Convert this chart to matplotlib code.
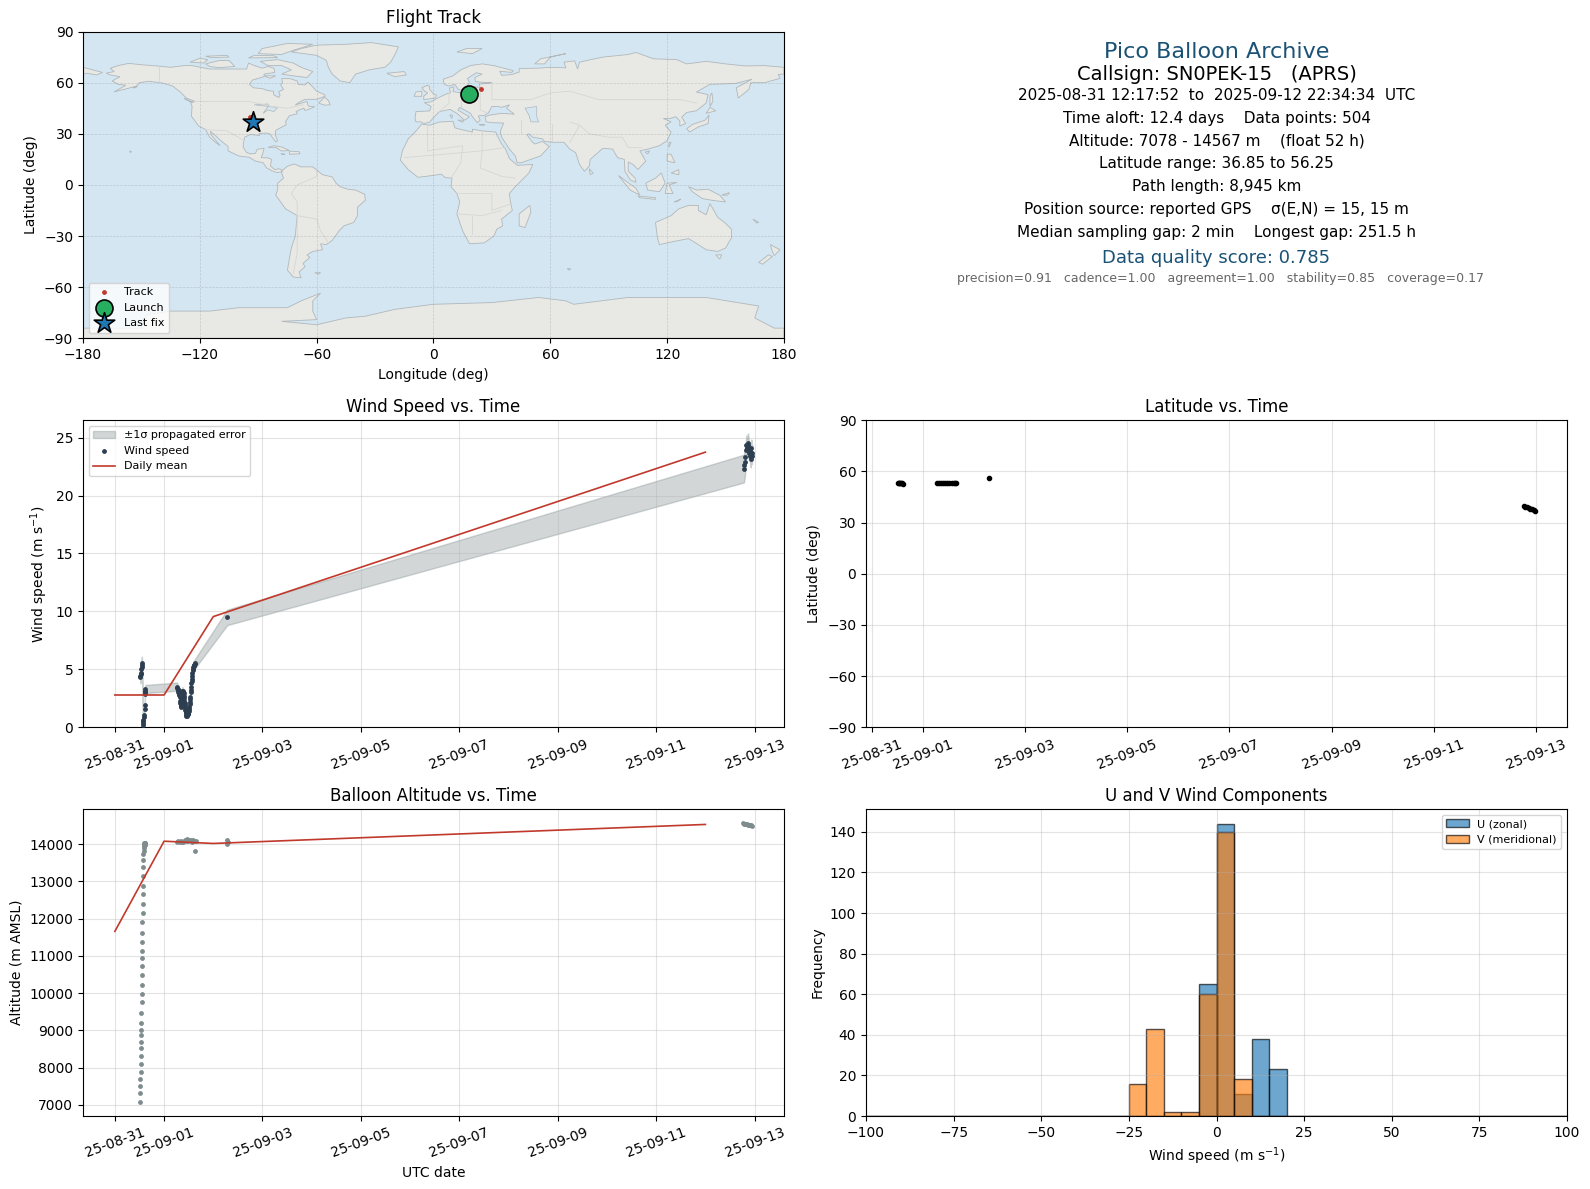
import pandas as pd
import matplotlib
matplotlib.use("Agg")
import matplotlib.pyplot as plt
import matplotlib.dates as mdates

##########################
# 1) flight data
##########################
start_day = pd.Timestamp("2025-08-31")

# wind speed, time in hours after 08-31 00:00
wind_hours = [12.4, 12.5, 12.6, 12.7, 12.9, 13.0, 13.1, 13.2, 13.8, 13.85, 13.9, 13.95, 14.0, 14.1,
              14.5, 14.6, 14.7, 14.75, 14.8, 14.85,
              30.4, 30.5, 30.6, 30.8, 30.9, 31.1, 31.2, 31.4, 31.6, 31.8, 31.9, 32.1, 32.2, 32.3, 32.4,
              32.6, 32.7, 32.8, 32.9, 33.1, 33.2, 33.4, 33.5, 33.7, 33.8, 33.9, 34.0, 34.2, 34.3, 34.4,
              34.5, 34.7, 34.8, 34.9, 35.0, 35.2, 35.3, 35.5, 35.6, 35.8, 36.0, 36.2, 36.3, 36.5, 36.6,
              36.7, 36.8, 37.0, 37.1, 37.2, 37.3, 37.5, 37.6, 37.7, 37.8, 38.0, 38.1, 38.3, 38.4, 38.6,
              38.8, 39.0, 39.2, 54.8,
              306.8, 307.0, 307.3, 307.5, 307.8, 308.0, 308.3, 308.6, 308.8, 309.1, 309.3, 309.6,
              309.9, 310.1, 310.4, 310.6, 310.8]
wind_speed = [4.4, 4.3, 4.6, 4.7, 5.0, 5.2, 5.4, 5.5, 0.2, 0.35, 0.5, 0.63, 0.92, 1.06,
              1.6, 1.9, 2.9, 3.05, 3.15, 3.3,
              3.5, 3.4, 3.3, 3.2, 3.07, 2.95, 2.85, 2.75, 2.64, 2.3, 2.07, 2.0, 1.95, 1.85, 1.78,
              2.2, 2.5, 2.9, 3.16, 3.1, 3.05, 3.0, 2.93, 2.7, 2.5, 2.3, 2.07, 1.9, 1.7, 1.5,
              1.35, 1.2, 1.06, 1.0, 1.0, 1.05, 1.1, 1.12, 1.15, 1.3, 1.4, 1.6, 1.78, 2.0, 2.2,
              2.4, 2.64, 3.0, 3.2, 3.5, 3.79, 4.0, 4.2, 4.4, 4.66, 4.9, 5.0, 5.2, 5.29, 5.35,
              5.4, 5.45, 5.52, 9.48,
              22.33, 22.6, 22.9, 23.3, 23.9, 24.4, 24.1, 24.4, 24.57, 24.1, 23.7, 23.85,
              23.4, 23.13, 24.14, 23.4, 23.7]
wind_err = [0.5, 0.5, 0.5, 0.5, 0.55, 0.55, 0.6, 0.6, 0.15, 0.15, 0.15, 0.15, 0.2, 0.2,
            0.25, 0.25, 0.3, 0.3, 0.35, 0.35,
            0.35, 0.35, 0.3, 0.3, 0.3, 0.3, 0.3, 0.3, 0.25, 0.25, 0.2, 0.2, 0.2, 0.2, 0.2,
            0.2, 0.25, 0.3, 0.3, 0.3, 0.3, 0.3, 0.25, 0.25, 0.25, 0.2, 0.2, 0.2, 0.15, 0.15,
            0.15, 0.15, 0.15, 0.15, 0.15, 0.15, 0.15, 0.15, 0.15, 0.15, 0.15, 0.2, 0.2, 0.2, 0.25,
            0.25, 0.25, 0.3, 0.3, 0.35, 0.35, 0.35, 0.35, 0.4, 0.4, 0.4, 0.4, 0.4, 0.4, 0.4,
            0.4, 0.4, 0.4, 0.67,
            1.2, 1.2, 1.2, 1.0, 0.9, 0.8, 0.8, 0.8, 0.8, 0.8, 0.7, 0.7,
            0.7, 0.7, 0.7, 0.7, 0.7]

# altitude
alt_hours = [12.3, 12.3, 12.4, 12.5, 12.7, 12.7, 12.7, 12.7, 12.7, 12.7, 12.7, 12.8, 12.8, 13.2,
             13.2, 13.2, 13.2, 13.2, 13.2, 13.2, 13.2, 13.3, 13.3, 13.7, 13.7, 13.7, 13.7, 13.7,
             13.7, 13.7, 13.8, 14.2, 14.2, 14.2, 14.3, 14.4, 14.5, 14.6, 14.7, 14.8,
             30.4, 31.0, 31.6, 32.2, 32.8, 33.4, 34.0, 34.6, 35.2, 35.8, 36.4, 37.0, 37.6, 38.2,
             38.8, 39.0, 39.4, 54.6, 54.8, 55.0,
             306.2, 306.8, 307.4, 307.8, 308.3, 308.8, 309.3, 309.8, 310.3, 310.8]
alt_meters = [7078, 7330, 7510, 7700, 7890, 8100, 8310, 8520, 8680, 8870, 9000, 9200, 9460, 9760,
              9970, 10210, 10500, 10735, 10950, 11130, 11370, 11610, 11900, 12140, 12400, 12650,
              12885, 13150, 13390, 13575, 13735, 13820, 13910, 13955, 14000, 14020, 14040, 13990,
              14030, 14010,
              14070, 14080, 14060, 14090, 14060, 14050, 14110, 14090, 14130, 14080, 14120, 14100,
              14050, 14110, 14080, 13815, 14090, 14100, 14000, 14050,
              14567, 14550, 14545, 14540, 14530, 14520, 14525, 14510, 14505, 14500]

# latitude
lat_hours = [12.3, 12.6, 13.0, 13.4, 13.8, 14.2, 14.6, 30.5, 31.5, 32.5, 33.5, 34.5, 35.5, 36.5,
             37.5, 38.5, 39.0, 39.5, 54.9, 306.2, 307.0, 307.8, 308.6, 309.4, 310.2, 311.0, 311.6]
lat_deg = [53.5, 53.4, 53.3, 53.2, 53.1, 53.0, 52.9, 53.0, 53.0, 53.0, 53.05, 53.05, 53.1, 53.1,
           53.1, 53.3, 53.4, 53.5, 56.25, 39.5, 39.2, 38.9, 38.5, 38.1, 37.7, 37.4, 37.0]

# daily means
mean_days = ["2025-08-31", "2025-09-01", "2025-09-02", "2025-09-12"]
mean_wind = [2.78, 2.78, 9.55, 23.75]
mean_alt = [11660, 14080, 14020, 14530]

# U / V histogram, one count per 5 m/s bin from -100 to 100
bin_edges = list(range(-100, 100, 5))
u_counts = [0] * 19 + [65, 144, 11, 38, 23] + [0] * 16
v_counts = [0] * 15 + [16, 43, 2, 2, 60, 140, 18] + [0] * 18

# map markers
track_lon = [16.5, 18.0, 19.5, 21.0, 24.2, -94.4, -93.5, -92.5]
track_lat = [53.4, 53.2, 53.2, 53.2, 56.25, 39.6, 38.2, 36.85]
launch_lon, launch_lat = 18.3, 53.5
last_lon, last_lat = -92.5, 36.85

info_lines = [
    "2025-08-31 12:17:52  to  2025-09-12 22:34:34  UTC",
    "Time aloft: 12.4 days    Data points: 504",
    "Altitude: 7078 - 14567 m    (float 52 h)",
    "Latitude range: 36.85 to 56.25",
    "Path length: 8,945 km",
    "Position source: reported GPS    σ(E,N) = 15, 15 m",
    "Median sampling gap: 2 min    Longest gap: 251.5 h",
]

##########################
# 2) rough world outlines (lon, lat)
##########################
north_america = [(-168, 65.6), (-164, 66.5), (-166, 68.4), (-162, 70), (-156.5, 71.3), (-150, 70.5), (-141, 69.7),
                 (-135, 69), (-128, 70), (-124, 70), (-115, 68), (-108, 68), (-102, 68), (-96, 68), (-95, 71.5),
                 (-92, 70), (-88, 68.5), (-85, 69.5), (-82, 68.5), (-81.5, 66), (-87, 65), (-87, 63.5), (-93, 61.5),
                 (-94.5, 59), (-92.5, 57), (-88, 56.5), (-85, 55.3), (-82.3, 55), (-82, 52.8), (-79.5, 51.3),
                 (-78.8, 52.5), (-79.5, 54.7), (-77, 56), (-78.5, 58.7), (-77.5, 60), (-78, 62.4), (-73.5, 62.3),
                 (-70, 61), (-69.5, 59), (-66, 58.7), (-64.5, 60.3), (-62, 57.5), (-60, 55), (-56, 53), (-55.7, 52),
                 (-60, 50.2), (-66, 50.2), (-69, 48.5), (-71, 46.9), (-65, 49), (-64.5, 47), (-64, 46), (-61, 45.9),
                 (-63.5, 44.6), (-66, 43.6), (-66.5, 45), (-69, 44), (-70.6, 43), (-70, 41.7), (-74, 40.6),
                 (-75.5, 38), (-76, 36.9), (-75.6, 35.3), (-78, 33.9), (-81, 32), (-81.3, 29.5), (-80.1, 26),
                 (-81, 25.2), (-82.7, 27.8), (-84, 30), (-86, 30.4), (-89.5, 30.2), (-89.3, 29), (-94, 29.6),
                 (-97, 28), (-97.5, 25), (-97.8, 22.3), (-96, 19), (-94, 18.2), (-91.5, 18.5), (-90.5, 20.9),
                 (-87, 21.5), (-87.5, 19), (-88.5, 16), (-85, 15.9), (-83.2, 15), (-83.7, 11), (-81.5, 9),
                 (-79.5, 9.5), (-77.5, 8.6), (-78.5, 7.5), (-80.5, 7.3), (-83, 8.3), (-85.7, 10), (-87.5, 13),
                 (-91.5, 14), (-94.5, 16.2), (-100, 17), (-105.5, 20), (-105.5, 22.5), (-109, 25.8), (-112.5, 29.5),
                 (-114.7, 31.5), (-114, 29), (-111, 25), (-109.5, 23), (-112, 25), (-115, 28), (-117, 32.5),
                 (-120.5, 34.5), (-122.5, 37.5), (-124.3, 40.3), (-124, 46), (-124.7, 48.3), (-122.5, 49), (-127, 51),
                 (-130, 54.5), (-134, 58), (-139, 59.7), (-146, 60.8), (-151, 60), (-152.5, 58), (-158, 56.3),
                 (-164, 54.6), (-158, 58.5), (-162, 59), (-165, 61), (-161, 63.5), (-166, 64.5)]
greenland = [(-73, 78), (-68, 80), (-60, 82), (-45, 82.5), (-32, 83.5), (-18, 81), (-20, 76), (-22, 72), (-25, 69),
             (-33, 67.5), (-40, 65), (-43, 60), (-48, 61), (-52, 65), (-54, 69), (-55, 73), (-60, 76)]
baffin = [(-80, 73.5), (-72, 71.5), (-68, 69), (-62, 66.5), (-65, 63), (-72, 64), (-78, 65), (-73, 67.5), (-78, 70),
          (-85, 70), (-89, 72.5)]
victoria = [(-117, 71), (-110, 73), (-105, 73), (-102, 69.5), (-110, 68.8), (-115, 69.5)]
banks = [(-125, 72), (-120, 74.3), (-116, 73.5), (-118, 71.5)]
melville = [(-117, 75.5), (-106, 76), (-105, 75), (-114, 74.7)]
ellesmere = [(-90, 77), (-88, 80), (-75, 83), (-62, 82.5), (-72, 79), (-78, 76.5)]
devon = [(-95, 74.5), (-80, 74.7), (-82, 75.8), (-92, 76)]
southampton = [(-87, 64), (-81, 64), (-84, 62.5)]
newfoundland = [(-59, 48), (-56, 46.8), (-53, 47), (-54, 49.5), (-56, 51.5)]
vancouver = [(-128, 50.7), (-123.5, 48.4), (-125, 48.8)]
kodiak = [(-154.5, 57), (-152, 58), (-153, 57)]
cuba = [(-85, 22), (-82, 23), (-78, 22.3), (-74, 20.2), (-78, 19.9), (-81, 22)]
hispaniola = [(-74, 19.8), (-69, 19.5), (-68.5, 18.3), (-74, 18)]
jamaica = [(-78.3, 18.4), (-76.3, 18), (-77.5, 17.8)]
hawaii = [(-156, 20), (-155, 19.5), (-155.7, 19)]
south_america = [(-77.5, 8.6), (-75, 11), (-71.5, 12.3), (-68, 10.6), (-62, 10.6), (-57, 6), (-52, 4.7), (-50, 1),
                 (-48, -1), (-44, -2.5), (-40, -3), (-35.3, -5.5), (-35, -9), (-39, -13), (-39, -18), (-41, -22),
                 (-46, -24), (-48.5, -27), (-52, -32.5), (-55, -35), (-58, -34.5), (-57, -38), (-62, -39), (-65, -41),
                 (-63.5, -42.5), (-67, -46), (-66, -48), (-69, -51), (-68, -54.5), (-72, -54), (-75, -50), (-74, -43),
                 (-73, -37), (-71, -30), (-70, -18), (-76, -14), (-81, -6), (-80, -2.5), (-80, 1), (-77, 4), (-78, 7)]
falklands = [(-61, -51.5), (-58, -51.4), (-59, -52.3)]
africa = [(-6, 35.7), (-2, 35), (3, 36.9), (10, 37.3), (11, 33.5), (15, 32.3), (20, 31), (20, 32.7), (25, 31.7), (32, 31),
          (32.5, 29.5), (35, 24), (37, 21), (39, 15.5), (43, 11.5), (51, 12), (49, 7), (42, -1), (39, -5), (39.5, -10),
          (40.5, -15), (35, -20), (35.5, -24), (32.5, -26), (31, -30), (26, -34), (18.5, -34.5), (15, -27), (12, -17),
          (13.5, -10), (12, -5), (9, -1), (9.5, 4), (6, 4.3), (4, 6.3), (-4, 5), (-8, 4.5), (-13, 9), (-17, 14.5),
          (-16, 20), (-13, 27), (-9.5, 31)]
madagascar = [(49.5, -12), (50, -16), (47, -25), (44, -24), (44, -17)]
eurasia = [(-9, 37), (-9.5, 39), (-9, 43), (-2, 43.4), (-1.2, 46), (-4.7, 48.3), (-1.5, 48.7), (1.5, 50.5), (4, 52), (7, 53.5),
           (8.7, 54), (8.2, 56.8), (10.5, 57.6), (10, 54.8), (14, 54), (18.5, 54.7), (21, 55.5), (21.5, 57.5), (24, 57.2),
           (23.5, 59.2), (28, 59.6), (30, 60), (25, 60.2), (21.5, 60.7), (21.2, 63), (25, 65), (22, 65.8), (17.5, 62.5),
           (18.5, 60), (16.5, 57), (14.3, 55.5), (12.7, 56), (11, 59), (8, 58), (5.5, 59), (5, 62), (10, 64), (14, 67.5),
           (19, 70), (25, 71), (31, 70), (41, 67), (40, 66), (34, 66.7), (35, 64.3), (40, 64.7), (44, 66.2), (44, 68.3),
           (54, 68.5), (60, 69), (68, 68.7), (67, 72), (72.5, 72.8), (74, 68), (75, 72), (80, 73.3), (87, 75), (100, 76.5),
           (104, 77.7), (113, 74), (125, 73.5), (130, 71), (140, 72.5), (150, 71), (160, 69.8), (170, 70), (180, 69),
           (180, 65), (177, 64.8), (178, 62.5), (170, 60), (163, 60), (162, 56), (156.5, 51), (155.5, 57), (163.5, 62),
           (155, 59.5), (142, 59), (135, 54.5), (141, 53), (140, 48), (135, 43.5), (130, 42.5), (127.5, 39.8), (129.5, 36),
           (126.5, 34.5), (126.5, 37.5), (124.5, 40), (121.5, 39), (118, 39), (122, 37), (119, 35), (122, 31), (120, 26),
           (116, 23), (110, 21), (106, 20), (109, 14), (105, 9), (102.5, 12), (100, 13.5), (100, 8), (103.5, 4), (104, 1.5),
           (101, 3), (98.3, 8), (98, 15), (94.5, 16), (92, 21), (87, 21.5), (80.5, 15), (80, 11), (77.5, 8), (75, 12),
           (73, 19), (70, 21), (67, 25), (62, 25), (57, 25.5), (56, 27), (51, 28), (49, 30), (48, 29.5), (50.5, 25.5),
           (52, 24), (56, 25.5), (59.5, 22.5), (55, 17), (45, 13), (43, 13), (42, 17), (39, 21), (35, 28), (34.3, 31.3),
           (36, 36.3), (30.5, 36.5), (27, 37), (26.5, 40), (29, 41), (35, 42), (41.5, 41.5), (37.5, 45), (39, 47), (35, 45.5),
           (33, 46), (30, 46), (28, 42), (26, 40.8), (23, 40.5), (24, 38), (22.5, 36.5), (20, 40), (19, 42), (13.5, 45.5),
           (12.5, 44), (16, 41.5), (18.5, 40), (16, 38), (12, 42), (8.5, 44.3), (3, 43), (0, 39.5), (-2, 36.8), (-5, 36),
           (-6.5, 37)]
chukotka_west = [(-180, 69), (-175, 67.5), (-170, 66), (-173, 64.5), (-178, 65.5), (-180, 65)]
britain = [(-5, 50), (1, 51), (1.5, 52.7), (0, 53.5), (-2, 56), (-2, 57.6), (-3, 58.5), (-6, 57), (-4.5, 55), (-3, 54), (-5, 52)]
ireland = [(-10, 52), (-6, 52), (-6, 55), (-9, 54.5)]
iceland = [(-24, 65.5), (-15, 66.5), (-14, 64.5), (-20, 63.5)]
svalbard = [(12, 78), (17, 80), (25, 80), (20, 77)]
novaya_zemlya = [(52, 71), (55, 74), (68, 77), (60, 75), (57, 71)]
sicily = [(12.5, 38), (15.5, 38), (15, 36.8)]
sardinia = [(8.3, 41), (9.7, 41), (9.5, 39)]
crete = [(23.5, 35.5), (26.3, 35.2), (24, 35)]
honshu = [(130, 33), (131.5, 31), (136, 34), (141, 36), (141.5, 41), (139.5, 38), (133, 35.5)]
hokkaido = [(140, 42), (145, 43.5), (142, 45.5)]
sakhalin = [(142, 46), (143.5, 49), (143, 54), (142, 52)]
taiwan = [(121, 25), (122, 25), (120.8, 22)]
hainan = [(108.7, 19.3), (111, 20), (110, 18.2)]
sri_lanka = [(80, 9.5), (82, 7), (80.5, 6)]
luzon = [(120, 18), (122, 18), (124, 13), (120, 14)]
mindanao = [(122, 7), (126, 9), (126, 6)]
borneo = [(109, 1), (114, 4), (117, 7), (119, 1), (116, -4), (110, -3)]
sumatra = [(95, 5.5), (104, -2), (106, -6), (101, -3)]
java = [(105, -6.5), (114, -7.5), (114, -8.5), (106, -7.5)]
timor = [(123.5, -10), (127, -8.3), (125, -9.8)]
sulawesi = [(119, -5), (120, 1), (125, 1.5), (121, 0), (123, -5)]
new_guinea = [(131, -1), (135, -3), (141, -2.5), (147, -6), (150, -10), (143, -9), (138, -8), (133, -4)]
new_britain = [(148, -6), (152, -4.5), (151, -6)]
new_caledonia = [(164, -20), (167, -22), (166, -22.3)]
australia = [(114, -22), (117, -20.5), (122, -18), (126, -14), (131, -12), (136, -12), (136, -15), (140, -17.5), (142, -11),
             (146, -19), (150, -22.5), (153, -26), (153, -31), (150, -37), (146, -39), (140, -38), (136, -35), (131, -31.5),
             (124, -33), (116, -35), (115, -31)]
tasmania = [(145, -41), (148, -41), (147, -43.5)]
nz_north = [(173, -35), (178, -38), (175, -41.5), (174, -39)]
nz_south = [(172, -41), (174, -42), (169, -46.5), (167, -45.5)]
kerguelen = [(68.7, -49), (70.5, -49.2), (69.5, -50)]
antarctica = [(-180, -90), (-180, -84), (-150, -84), (-147, -76), (-135, -74), (-115, -74), (-100, -72), (-75, -72),
              (-68, -68), (-58, -63.5), (-62, -68), (-62, -74), (-60, -79), (-78, -80), (-60, -82), (-45, -78),
              (-35, -77), (-20, -73), (0, -70), (30, -69), (54, -66), (68, -68), (72, -70), (100, -66), (140, -66),
              (167, -71), (165, -78), (175, -84), (180, -84), (180, -90)]
land_masses = [north_america, greenland, baffin, victoria, banks, melville, ellesmere, devon, southampton, newfoundland,
               vancouver, kodiak, cuba, hispaniola, jamaica, hawaii, south_america, falklands, africa, madagascar,
               eurasia, chukotka_west, britain, ireland, iceland, svalbard, novaya_zemlya, sicily, sardinia, crete,
               honshu, hokkaido, sakhalin, taiwan, hainan, sri_lanka, luzon, mindanao, borneo, sumatra, java, timor,
               sulawesi, new_guinea, new_britain, new_caledonia, australia, tasmania, nz_north, nz_south, kerguelen,
               antarctica]

caspian = [(47, 45), (53, 46), (53, 40), (54, 37), (50, 37), (49, 41)]
superior = [(-92, 47), (-85, 47.5), (-84.5, 46), (-88, 46.5)]
michigan_huron = [(-87.5, 42), (-85, 46), (-80, 45.5), (-82, 43), (-85, 44)]
lakes = [caspian, superior, michigan_huron]

borders = [[(-123, 49), (-95, 49), (-83, 46), (-75, 45), (-67, 47)], [(-117, 32.5), (-106, 31.7), (-97, 26)],
           [(-141, 70), (-141, 60)], [(-70, -18), (-60, -20), (-58, -27), (-54, -34)],
           [(-70, -18), (-70, -10), (-73, -5), (-70, 0), (-60, 5), (-60, 8)], [(-70, -18), (-70, -40), (-72, -52)],
           [(-15, 16), (25, 20), (37, 22)], [(25, 32), (25, 20), (24, 10), (35, 5), (42, 4)],
           [(-3, 35), (-3, 20), (15, 23), (14, 13), (9, 4)], [(12, -5), (30, -5), (30, -15), (40, -11)],
           [(12, -17), (25, -18), (35, -15)], [(20, -18), (20, -29)],
           [(30, 60), (30, 50), (40, 50), (50, 50), (60, 54), (70, 55), (85, 50), (98, 50), (115, 50), (127, 50), (135, 48)],
           [(75, 35), (80, 30), (90, 28), (97, 28), (100, 22), (107, 22)], [(45, 38), (45, 30)], [(61, 36), (61, 26)],
           [(70, 37), (75, 35), (70, 25)], [(3, 43), (8, 48), (8, 54)], [(14, 54), (14, 46)], [(24, 54), (24, 44), (28, 42)]]

##########################
# 3) helpers
##########################
def to_dates(hours):
    return start_day + pd.to_timedelta(hours, unit="h")


def fmt_time_axis(ax):
    ax.xaxis.set_major_locator(mdates.DayLocator(bymonthday=range(1, 32, 2)))
    ax.xaxis.set_major_formatter(mdates.DateFormatter("%y-%m-%d"))
    ax.tick_params(axis="x", rotation=20)
    ax.grid(True, alpha=0.35)


##########################
# 4) figure
##########################
fig, axes = plt.subplots(3, 2, figsize=(15.9, 11.89), dpi=100)
fig.subplots_adjust(left=83 / 1590, right=1567 / 1590, top=1 - 31.5 / 1189, bottom=1 - 1116 / 1189,
                    wspace=0.117, hspace=0.267)
ax_map, ax_info = axes[0]
ax_wind, ax_lat = axes[1]
ax_alt, ax_hist = axes[2]

# flight track
ax_map.set_facecolor("#d4e6f1")
for land in land_masses:
    ax_map.fill([p[0] for p in land], [p[1] for p in land], facecolor="#e8e8e4", edgecolor="#b0b8bc", lw=0.6, zorder=1)
for lake in lakes:
    ax_map.fill([p[0] for p in lake], [p[1] for p in lake], facecolor="#d4e6f1", edgecolor="#b0b8bc", lw=0.5, zorder=1.1)
for line in borders:
    ax_map.plot([p[0] for p in line], [p[1] for p in line], color="#d6d6d2", lw=0.6, zorder=1.2)
ax_map.scatter(track_lon, track_lat, s=6, color="#c0392b", label="Track", zorder=3)
ax_map.scatter(launch_lon, launch_lat, s=150, color="#27ae60", edgecolor="black", linewidth=1.2, label="Launch", zorder=4)
ax_map.scatter(last_lon, last_lat, s=240, marker="*", color="#1f77b4", edgecolor="black", linewidth=1.2, label="Last fix", zorder=5)
ax_map.set_xlim(-180, 180)
ax_map.set_ylim(-90, 90)
ax_map.set_xticks(range(-180, 181, 60))
ax_map.set_yticks(range(-90, 91, 30))
ax_map.grid(True, color="gray", lw=0.5, ls="--", alpha=0.3)
ax_map.set_xlabel("Longitude (deg)")
ax_map.set_ylabel("Latitude (deg)")
ax_map.set_title("Flight Track")
ax_map.legend(loc="lower left", fontsize=8)

# summary text
ax_info.axis("off")
ax_info.text(0.5, 0.9347, "Pico Balloon Archive", fontsize=16, color="#1a5276", ha="center", va="center")
ax_info.text(0.5, 0.8607, "Callsign: SN0PEK-15   (APRS)", fontsize=14, color="black", ha="center", va="center")
for i, line in enumerate(info_lines):
    ax_info.text(0.5, 0.7927 - i * 0.0748, line, fontsize=11, ha="center", va="center")
ax_info.text(0.5, 0.2613, "Data quality score: 0.785", fontsize=13, color="#1a5276", ha="center", va="center")
ax_info.text(0.5058, 0.1967, "precision=0.91   cadence=1.00   agreement=1.00   stability=0.85   coverage=0.17",
             fontsize=9, color="#666666", ha="center", va="center")

# wind speed
wind_times = to_dates(wind_hours)
wind_low = [w - e for w, e in zip(wind_speed, wind_err)]
wind_high = [w + e for w, e in zip(wind_speed, wind_err)]
ax_wind.fill_between(wind_times, wind_low, wind_high, color="#7f8c8d", alpha=0.35, label="±1σ propagated error")
ax_wind.scatter(wind_times, wind_speed, s=6, color="#2c3e50", label="Wind speed", zorder=3)
ax_wind.plot(pd.to_datetime(mean_days), mean_wind, color="#c0392b", lw=1.2, label="Daily mean", zorder=4)
ax_wind.set_ylim(0, 26.5)
ax_wind.set_ylabel("Wind speed (m s$^{-1}$)")
ax_wind.set_title("Wind Speed vs. Time")
ax_wind.legend(loc="upper left", fontsize=8)
fmt_time_axis(ax_wind)

# latitude
ax_lat.plot(to_dates(lat_hours), lat_deg, ls="none", marker="o", ms=3, color="black")
ax_lat.set_ylim(-90, 90)
ax_lat.set_yticks(range(-90, 91, 30))
ax_lat.set_ylabel("Latitude (deg)")
ax_lat.set_title("Latitude vs. Time")
fmt_time_axis(ax_lat)

# altitude
ax_alt.scatter(to_dates(alt_hours), alt_meters, s=6, color="#7f8c8d", zorder=3)
ax_alt.plot(pd.to_datetime(mean_days), mean_alt, color="#c0392b", lw=1.2, zorder=4)
ax_alt.set_xlabel("UTC date")
ax_alt.set_ylabel("Altitude (m AMSL)")
ax_alt.set_title("Balloon Altitude vs. Time")
fmt_time_axis(ax_alt)

# U and V histogram
ax_hist.bar(bin_edges, u_counts, width=5, align="edge", color="#1f77b4", alpha=0.65, edgecolor="black", label="U (zonal)")
ax_hist.bar(bin_edges, v_counts, width=5, align="edge", color="#ff7f0e", alpha=0.65, edgecolor="black", label="V (meridional)")
ax_hist.set_xlim(-100, 100)
ax_hist.set_xlabel("Wind speed (m s$^{-1}$)")
ax_hist.set_ylabel("Frequency")
ax_hist.set_title("U and V Wind Components")
ax_hist.grid(True, alpha=0.35)
ax_hist.legend(loc="upper right", fontsize=8)

fig.savefig("out.png", dpi=100)
